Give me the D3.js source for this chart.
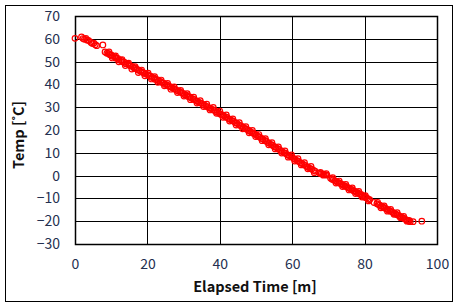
<!DOCTYPE html>
<html><head><meta charset="utf-8">
<script src="https://cdn.jsdelivr.net/npm/d3@7"></script>
<style>html,body{margin:0;padding:0;background:#fff;}svg{display:block;}</style>
</head><body>
<script>
const xTicks = [0,20,40,60,80,100];
const yTicks = [-30,-20,-10,0,10,20,30,40,50,60,70];
const xTitle = "Elapsed Time [m]";
const yTitle = "Temp [˚C]";
// elapsed time (min)
const times = [
 0.0,1.8,2.2,2.6,3.0,3.4,3.8,4.4,4.8,5.2,5.6,6.0,7.7,8.3,8.8,
 9.2,9.6,10.0,10.4,10.9,11.3,11.8,12.2,12.7,13.1,13.6,14.0,14.5,15.0,15.4,15.9,16.3,16.8,17.2,17.7,18.1,18.6,19.0,19.5,
 20.0,20.4,20.9,21.3,21.8,22.2,22.7,23.1,23.6,24.0,24.5,24.9,25.4,25.8,26.3,26.7,27.2,27.6,28.1,28.5,29.0,29.4,29.9,
 30.3,30.8,31.2,31.7,32.1,32.6,33.0,33.5,33.9,34.4,34.8,35.3,35.7,36.2,36.6,37.1,37.5,38.0,38.4,38.9,39.3,39.8,
 40.2,40.7,41.1,41.6,42.0,42.5,42.9,43.4,43.8,44.3,44.7,45.2,45.6,46.1,46.5,47.0,47.4,47.9,48.3,48.8,49.2,49.7,
 50.1,50.6,51.0,51.5,51.9,52.4,52.8,53.3,53.7,54.2,54.6,55.1,55.5,56.0,56.4,56.9,57.3,57.8,58.2,58.7,59.1,59.6,
 60.0,60.5,60.9,61.4,61.8,62.3,62.7,63.2,63.6,64.1,64.5,65.0,65.4,65.9,66.3,
 67.6,68.0,68.4,68.8,69.2,69.6,
 70.6,71.0,71.4,71.8,72.2,72.6,73.0,73.4,73.8,74.2,74.6,75.0,75.4,75.8,76.2,76.6,77.0,77.4,77.8,78.2,78.6,79.0,79.4,79.8,
 80.2,80.6,81.0,81.4,82.6,83.4,83.8,84.2,84.6,85.0,85.4,85.8,86.2,86.6,87.0,87.4,87.8,88.2,88.6,89.0,89.4,89.8,90.2,90.6,91.0,91.4,91.8,92.2,92.6,93.4,95.8,
 9.4,10.3,11.2,12.1,13.0,13.9,14.8,15.7,16.6,17.5,18.4,19.3,20.2,21.1,22.0,22.9,23.8,24.7,25.6,26.5,27.4,28.3,29.2,
 30.1,31.0,31.9,32.8,33.7,34.6,35.5,36.4,37.3,38.2,39.1,40.0,40.9,41.8,42.7,43.6,44.5,45.4,46.3,47.2,48.1,49.0,49.9,
 50.8,51.7,52.6,53.5,54.4,55.3,56.2,57.1,58.0,58.9,59.8,60.7,61.6,62.5,63.4,64.3,65.2,66.1,
 67.8,68.6,69.4,71.2,72.1,73.0,73.9,74.8,75.7,76.6,77.5,78.4,79.3,80.2,81.1,
 83.6,84.5,85.4,86.3,87.2,88.1,89.0,89.9,90.8,91.7,92.3
];
// temperature (°C)
const temps = [
 60.2,60.8,60.1,59.8,60.2,59.4,59.2,58.4,57.9,58.1,57.4,57.0,57.3,54.2,53.7,
 53.6,53.0,52.9,52.3,52.2,51.5,51.4,50.7,50.6,49.9,49.8,49.1,49.0,48.4,48.1,47.8,47.2,47.0,46.5,46.2,45.7,45.4,45.0,44.6,
 44.3,43.8,43.6,43.0,42.8,42.2,42.1,41.5,41.3,40.8,40.6,40.0,39.8,39.3,39.0,38.6,38.2,37.9,37.4,37.1,36.8,36.3,36.1,
 35.5,35.3,34.7,34.5,34.0,33.6,33.3,32.8,32.5,32.0,31.8,31.2,31.0,30.4,30.2,29.6,29.5,28.9,28.7,28.1,27.9,27.3,
 26.9,26.6,26.2,25.7,25.5,24.9,24.6,24.1,23.8,23.2,23.0,22.4,22.0,21.6,21.2,20.7,20.3,19.9,19.5,19.0,18.6,18.2,
 17.8,17.2,16.9,16.3,16.0,15.4,15.1,14.5,14.2,13.6,13.2,12.7,12.4,11.8,11.5,10.9,10.5,10.0,9.7,9.1,8.8,8.3,
 8.0,7.4,7.1,6.5,6.2,5.6,5.3,4.8,4.4,3.9,3.6,3.1,2.8,2.3,2.0,
 1.0,0.8,0.7,0.5,0.4,0.2,
 -1.2,-1.6,-1.8,-2.3,-2.5,-3.0,-3.2,-3.6,-3.9,-4.3,-4.6,-4.9,-5.3,-5.6,-6.0,-6.2,-6.7,-6.9,-7.4,-7.6,-8.1,-8.3,-8.8,-9.1,
 -9.6,-9.8,-10.3,-10.6,-11.8,-12.3,-12.7,-13.0,-13.4,-13.7,-14.1,-14.4,-14.8,-15.1,-15.5,-15.8,-16.1,-16.5,-16.8,-17.2,-17.5,-17.9,-18.2,-18.6,-18.9,-19.3,-19.6,-20.0,-20.2,-20.2,-20.0,
 54.2,51.6,52.5,49.9,50.9,48.3,49.3,46.7,47.8,45.2,46.3,43.8,44.9,42.4,43.4,40.9,41.9,39.4,40.4,37.9,38.9,36.4,37.4,
 34.9,35.9,33.3,34.4,31.8,32.9,30.3,31.3,28.8,29.9,27.3,28.3,25.6,26.6,23.9,24.9,22.2,23.2,20.5,21.5,18.8,19.8,17.1,
 18.0,15.3,16.2,13.5,14.4,11.7,12.6,9.9,10.8,8.1,9.1,6.4,7.4,4.7,5.7,3.0,4.0,1.3,
 1.4,0.2,0.9,-0.9,-3.3,-2.4,-4.8,-3.9,-6.3,-5.4,-7.9,-6.9,-9.4,-8.8,-11.1,
 -11.7,-14.1,-13.3,-15.6,-14.8,-17.0,-16.3,-18.5,-17.9,-20.0,-19.6
];

const W = 459, H = 308;
const M = {left:75, top:16, right:W-437, bottom:H-244};
const svg = d3.select("body").append("svg").attr("width",W).attr("height",H);
svg.append("rect").attr("x",5.5).attr("y",5.5).attr("width",447).attr("height",296)
  .attr("fill","#fff").attr("stroke","#000").attr("stroke-width",1);

const x = d3.scaleLinear().domain([0,100]).range([M.left, W-M.right]);
const y = d3.scaleLinear().domain([-30,70]).range([H-M.bottom, M.top]);

const font = "'Noto Sans CJK KR','Noto Sans',sans-serif";
const g = svg.append("g");
// grid
g.append("g").selectAll("line").data(yTicks).join("line")
  .attr("x1",x(0)).attr("x2",x(100)).attr("y1",d=>Math.round(y(d))+0.5).attr("y2",d=>Math.round(y(d))+0.5)
  .attr("stroke","#000").attr("stroke-width",1);
g.append("g").selectAll("line").data(xTicks).join("line")
  .attr("y1",y(-30)).attr("y2",y(70)).attr("x1",d=>Math.round(x(d))+0.5).attr("x2",d=>Math.round(x(d))+0.5)
  .attr("stroke","#000").attr("stroke-width",1);
g.append("rect").attr("x",x(0)+0.5).attr("y",y(70)+0.5).attr("width",x(100)-x(0)).attr("height",y(-30)-y(70))
  .attr("fill","none").attr("stroke","#000").attr("stroke-width",1.5);

// axes (labels only)
const xa = svg.append("g").attr("transform",`translate(0,${y(-30)})`)
  .call(d3.axisBottom(x).tickValues(xTicks).tickSize(0).tickPadding(15));
const ya = svg.append("g").attr("transform",`translate(${x(0)},0)`)
  .call(d3.axisLeft(y).tickValues(yTicks).tickSize(0).tickPadding(15));
[xa,ya].forEach(a=>{
  a.select(".domain").remove();
  a.selectAll("text").attr("font-family",font).attr("font-size",14).attr("fill","#243050");
});

// points
const pts = times.map((t,i)=>({t, v:temps[i]}));
svg.append("g").selectAll("circle").data(pts).join("circle")
  .attr("cx",d=>x(d.t)).attr("cy",d=>y(d.v)).attr("r",2.8)
  .attr("fill","none").attr("stroke","#ff0000").attr("stroke-width",1.2);

svg.append("text").attr("x",255).attr("y",292).attr("text-anchor","middle")
  .attr("font-family",font).attr("font-size",14.5).attr("font-weight",600).attr("fill","#111").text(xTitle);
svg.append("text").attr("transform","translate(24,135) rotate(-90)").attr("text-anchor","middle")
  .attr("font-family",font).attr("font-size",14.5).attr("font-weight",600).attr("fill","#111").text(yTitle);
</script>
</body></html>
